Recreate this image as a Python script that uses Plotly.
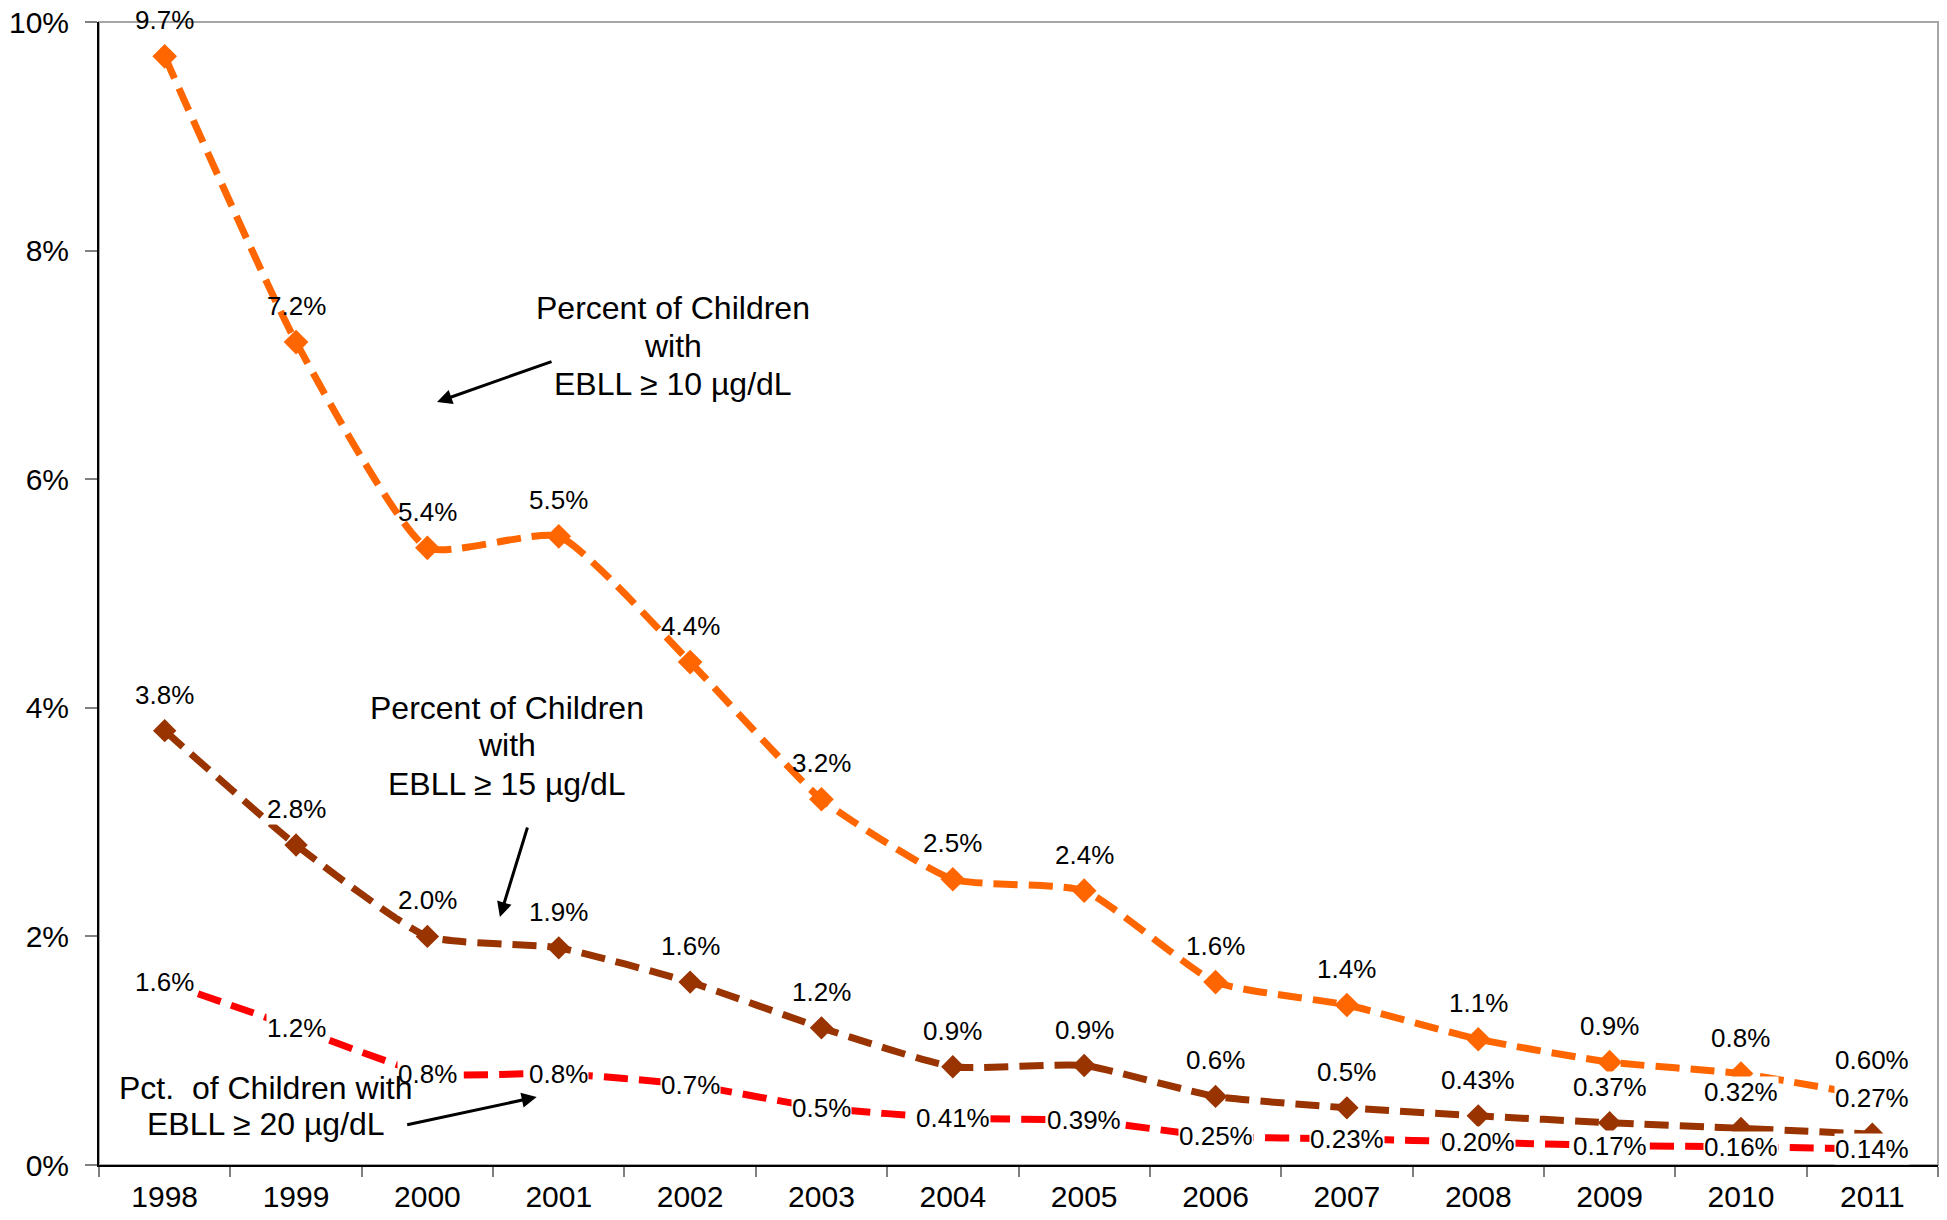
import plotly.graph_objects as go

years = [1998, 1999, 2000, 2001, 2002, 2003, 2004,
         2005, 2006, 2007, 2008, 2009, 2010, 2011]

ebll10 = [9.7, 7.2, 5.4, 5.5, 4.4, 3.2, 2.5, 2.4, 1.6, 1.4, 1.1, 0.9, 0.8, 0.60]
ebll10_labels = ["9.7%", "7.2%", "5.4%", "5.5%", "4.4%", "3.2%", "2.5%",
                 "2.4%", "1.6%", "1.4%", "1.1%", "0.9%", "0.8%", "0.60%"]

ebll15 = [3.8, 2.8, 2.0, 1.9, 1.6, 1.2, 0.86, 0.87, 0.6, 0.5, 0.43, 0.37, 0.32, 0.27]
ebll15_labels = ["3.8%", "2.8%", "2.0%", "1.9%", "1.6%", "1.2%", "0.9%",
                 "0.9%", "0.6%", "0.5%", "0.43%", "0.37%", "0.32%", "0.27%"]

ebll20 = [1.6, 1.2, 0.8, 0.8, 0.7, 0.5, 0.41, 0.39, 0.25, 0.23, 0.20, 0.17, 0.16, 0.14]
ebll20_labels = ["1.6%", "1.2%", "0.8%", "0.8%", "0.7%", "0.5%", "0.41%",
                 "0.39%", "0.25%", "0.23%", "0.20%", "0.17%", "0.16%", "0.14%"]

y_ticks = [0, 2, 4, 6, 8, 10]
y_ticktext = ["0%", "2%", "4%", "6%", "8%", "10%"]

callout_10 = ["Percent of Children", "with", "EBLL ≥ 10 µg/dL"]
callout_15 = ["Percent of Children", "with", "EBLL ≥ 15 µg/dL"]
callout_20 = ["Pct.  of Children with", "EBLL ≥ 20 µg/dL"]

FONT = "Arial, Liberation Sans, sans-serif"
ORANGE = "#FF6600"
BROWN = "#993300"
RED = "#FF0000"

fig = go.Figure()

fig.add_trace(go.Scatter(
    x=years, y=ebll20, mode="lines",
    line=dict(color=RED, width=7, dash="24px,11px", shape="spline", smoothing=0.5),
    hoverinfo="skip", showlegend=False))
fig.add_trace(go.Scatter(
    x=years, y=ebll15, mode="lines+markers",
    line=dict(color=BROWN, width=7, dash="24px,11px", shape="spline", smoothing=0.5),
    marker=dict(symbol="diamond", size=18, color=BROWN, line=dict(width=0)),
    hoverinfo="skip", showlegend=False))
fig.add_trace(go.Scatter(
    x=years, y=ebll10, mode="lines+markers",
    line=dict(color=ORANGE, width=7, dash="24px,11px", shape="spline", smoothing=0.5),
    marker=dict(symbol="diamond", size=19, color=ORANGE, line=dict(width=0)),
    hoverinfo="skip", showlegend=False))

annotations = []
lab_font = dict(family=FONT, size=26, color="black")
for x, y, t in zip(years, ebll10, ebll10_labels):
    annotations.append(dict(x=x, y=y, xref="x", yref="y", text=t, showarrow=False,
                            yshift=36, font=lab_font))
for x, y, t in zip(years, ebll15, ebll15_labels):
    annotations.append(dict(x=x, y=y, xref="x", yref="y", text=t, showarrow=False,
                            yshift=36, font=lab_font, bgcolor="white", borderpad=0))
for x, y, t in zip(years, ebll20, ebll20_labels):
    annotations.append(dict(x=x, y=y, xref="x", yref="y", text=t, showarrow=False,
                            yshift=0, font=lab_font, bgcolor="white", borderpad=0))

ann_font = dict(family=FONT, size=32, color="black")
for lines, xc, ys in [(callout_10, 0.3121, [0.7498, 0.7161, 0.6833]),
                      (callout_15, 0.2219, [0.3998, 0.3675, 0.3333]),
                      (callout_20, 0.0908, [0.0674, 0.0359])]:
    for t, yy in zip(lines, ys):
        annotations.append(dict(x=xc, y=yy, xref="paper", yref="paper", showarrow=False,
                                xanchor="center", yanchor="middle", text=t, font=ann_font))

for hx, hy, axp, ayp in [(0.1838, 0.6675, 116, -41),
                         (0.218, 0.217, 28, -91),
                         (0.238, 0.0595, -131, 28)]:
    annotations.append(dict(x=hx, y=hy, xref="paper", yref="paper", text="", showarrow=True,
                            ax=axp, ay=ayp, arrowhead=2, arrowsize=1, arrowwidth=3,
                            arrowcolor="black", standoff=0, startstandoff=0))

# page body has an 8px margin, so the figure is sized/offset to fit the 1947x1220 window
fig.update_layout(
    width=1931, height=1204,
    margin=dict(l=91, r=1, t=14, b=47),
    paper_bgcolor="white", plot_bgcolor="white",
    font=dict(family=FONT, color="black"),
    annotations=annotations,
    shapes=[dict(type="rect", xref="paper", yref="paper", x0=0, x1=1, y0=0, y1=1,
                 line=dict(color="#A6A6A6", width=2), layer="below")],
)
fig.update_xaxes(
    type="linear", range=[years[0] - 0.5, years[-1] + 0.5], automargin=False,
    tickvals=years, ticktext=[str(y) for y in years], tickangle=0,
    showgrid=False, zeroline=False,
    showline=True, linecolor="black", linewidth=2,
    ticks="", ticklen=0,
    minor=dict(tick0=years[0] - 0.5, dtick=1, ticks="outside", ticklen=10,
               tickcolor="#808080", tickwidth=1.5, showgrid=False),
    tickfont=dict(family=FONT, size=30, color="black"), ticklabelstandoff=4,
    ticklabeloverflow="allow",
)
fig.update_yaxes(
    range=[0, 10], tickvals=y_ticks, ticktext=y_ticktext, automargin=False,
    showgrid=False, zeroline=False,
    showline=True, linecolor="black", linewidth=2,
    ticks="outside", ticklen=12, tickcolor="#808080", tickwidth=1.5,
    tickfont=dict(family=FONT, size=30, color="black"), ticklabelstandoff=10,
    ticklabeloverflow="allow",
)

fig.write_html("out.html")
